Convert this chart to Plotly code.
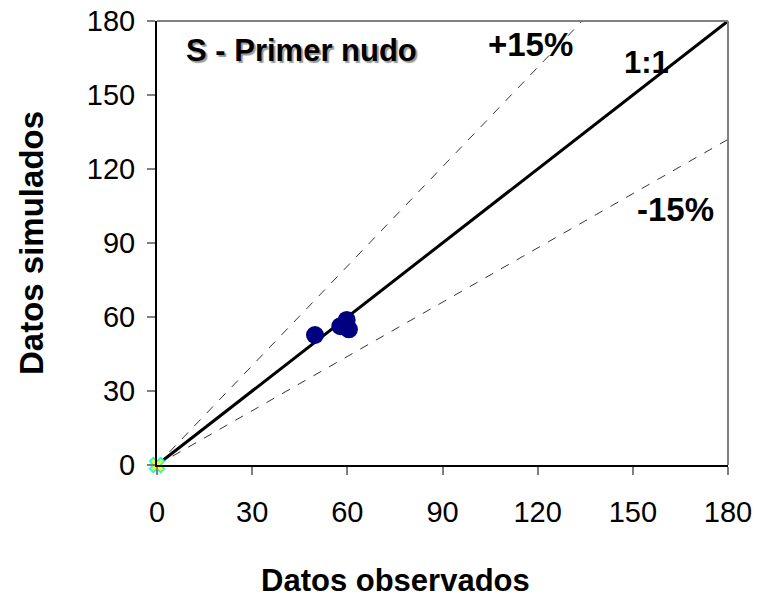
import plotly.graph_objects as go

# Data
obs = [49.8, 57.8, 60.5, 59.8]
sim = [52.7, 56.3, 55.0, 58.8]
line_x = [0, 180]
one_to_one = [0, 180]
upper_x = [0, 134]
upper_y = [0, 180]
lower_x = [0, 180]
lower_y = [0, 132]
tick_vals = [0, 30, 60, 90, 120, 150, 180]

FONT = "Arial, Liberation Sans, sans-serif"

fig = go.Figure()
fig.add_trace(go.Scatter(x=upper_x, y=upper_y, mode="lines",
                         line=dict(color="black", width=0.8, dash="dash"), showlegend=False))
fig.add_trace(go.Scatter(x=lower_x, y=lower_y, mode="lines",
                         line=dict(color="black", width=0.8, dash="dash"), showlegend=False))
fig.add_trace(go.Scatter(x=line_x, y=one_to_one, mode="lines",
                         line=dict(color="black", width=3), showlegend=False))
fig.add_trace(go.Scatter(x=obs, y=sim, mode="markers",
                         marker=dict(color="#000080", size=18), showlegend=False))
fig.add_trace(go.Scatter(x=[0], y=[0], mode="markers", cliponaxis=False,
                         marker=dict(symbol="x", color="yellow", size=13,
                                     line=dict(color="cyan", width=1.5)), showlegend=False))

# text labels inside the plot
fig.add_annotation(x=(184 - 157) / 3.167, y=(465 - 50) / 2.467, xanchor="left",
                   text="<b>S - Primer nudo</b>", showarrow=False,
                   font=dict(family=FONT, size=31, color="black",
                             shadow="2px 2px 1px #999"))
fig.add_annotation(x=(530 - 157) / 3.167, y=(465 - 44) / 2.467, text="<b>+15%</b>",
                   showarrow=False, font=dict(family=FONT, size=33, color="black"))
fig.add_annotation(x=(646 - 157) / 3.167, y=(465 - 62) / 2.467, text="<b>1:1</b>",
                   showarrow=False, font=dict(family=FONT, size=31, color="black"))
fig.add_annotation(x=(675 - 157) / 3.167, y=(465 - 209) / 2.467, text="<b>-15%</b>",
                   showarrow=False, font=dict(family=FONT, size=33, color="black"))

# axis titles
fig.add_annotation(xref="x", x=(395 - 157) / 3.167, yref="paper", y=0, yanchor="middle",
                   yshift=-(580 - 465), text="<b>Datos observados</b>", showarrow=False,
                   font=dict(family=FONT, size=31, color="black"))
fig.add_annotation(xref="paper", x=0, xanchor="center", xshift=-(157 - 31), yref="y", y=90,
                   yanchor="middle", textangle=-90,
                   text="<b>Datos simulados</b>", showarrow=False,
                   font=dict(family=FONT, size=33, color="black"))

axis_common = dict(
    range=[0, 180], tickvals=tick_vals, ticks="outside", ticklen=8,
    tickcolor="#808080", tickwidth=1.5, showgrid=False, zeroline=False,
    showline=True, linecolor="black", linewidth=2,
    tickfont=dict(family=FONT, size=29, color="black"),
    ticklabeloverflow="allow", automargin=False,
)
fig.update_xaxes(**axis_common, ticklabelstandoff=12)
fig.update_yaxes(**axis_common, ticklabelstandoff=6)

# gray top and right borders
fig.add_shape(type="line", xref="paper", yref="paper", x0=0, x1=1, y0=1, y1=1,
              line=dict(color="#808080", width=2))
fig.add_shape(type="line", xref="paper", yref="paper", x0=1, x1=1, y0=0, y1=1,
              line=dict(color="#808080", width=2))

fig.update_layout(
    width=755, height=596,
    margin=dict(l=149, r=35, t=13, b=139, autoexpand=False),
    plot_bgcolor="white", paper_bgcolor="white",
)
fig.write_html("out.html")
